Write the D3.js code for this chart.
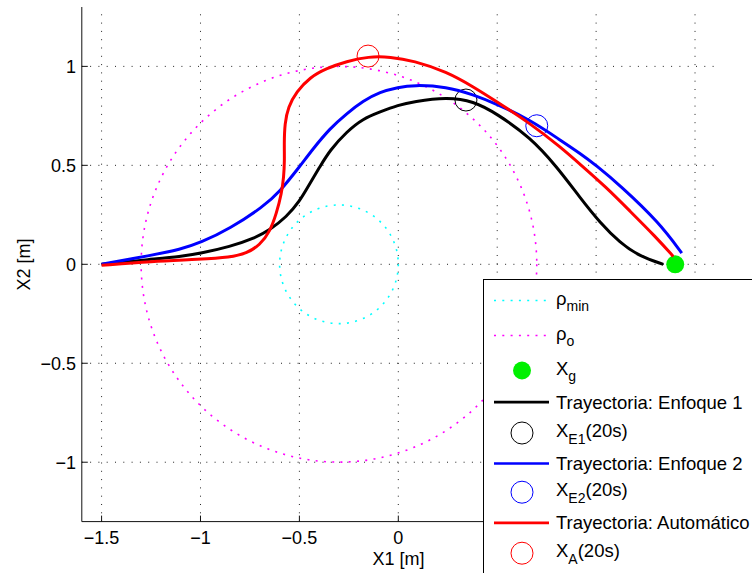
<!DOCTYPE html>
<html><head><meta charset="utf-8">
<script src="https://cdn.jsdelivr.net/npm/d3@7"></script>
<style>body{margin:0;background:#fff;overflow:hidden} svg{display:block;font-family:"Liberation Sans",Arial,Helvetica,sans-serif;}</style>
</head><body><svg id="c" width="752" height="573"></svg>
<script>
// ---------- data ----------
const xDomain = [-1.6, 1.6];
const yDomain = [-1.3, 1.3];
const xTicks = [-1.5, -1, -0.5, 0, 0.5, 1, 1.5];
const xTickLabels = ["\u22121.5", "\u22121", "\u22120.5", "0"];   // visible (others hidden by legend)
const yTicks = [-1, -0.5, 0, 0.5, 1];
const yTickLabels = ["\u22121", "\u22120.5", "0", "0.5", "1"];
const obstacleCenter = [-0.3, 0];
const rhoMin = 0.3;
const rhoO = 1.0;
const goal = [1.4, 0];
const trajE1 = [[-1.5,0],[-1.25,0.025],[-1.1,0.039],[-1.0,0.055],[-0.85,0.089],[-0.73,0.131],[-0.65,0.173],[-0.565,0.24],[-0.5,0.316],[-0.447,0.408],[-0.397,0.492],[-0.346,0.576],[-0.262,0.669],[-0.178,0.736],[-0.093,0.77],[0,0.805],[0.076,0.822],[0.245,0.844],[0.379,0.825],[0.5,0.76],[0.666,0.642],[0.8,0.495],[0.92,0.335],[1.02,0.21],[1.12,0.11],[1.22,0.04],[1.34,0.0]];
const trajE2 = [[-1.5,0],[-1.25,0.045],[-1.1,0.076],[-1.0,0.109],[-0.85,0.181],[-0.683,0.291],[-0.6,0.366],[-0.5,0.492],[-0.43,0.585],[-0.346,0.686],[-0.262,0.761],[-0.178,0.825],[-0.093,0.871],[0,0.894],[0.076,0.906],[0.245,0.898],[0.379,0.857],[0.497,0.81],[0.666,0.73],[0.818,0.628],[0.92,0.56],[1.0,0.5],[1.12,0.40],[1.32,0.21],[1.433,0.056]];
const trajA = [[-1.5,-0.005],[-1.25,0.015],[-1.0,0.025],[-0.85,0.035],[-0.767,0.055],[-0.7,0.097],[-0.649,0.165],[-0.616,0.257],[-0.59,0.358],[-0.579,0.442],[-0.575,0.526],[-0.577,0.61],[-0.574,0.711],[-0.557,0.795],[-0.515,0.871],[-0.447,0.945],[-0.363,0.99],[-0.262,1.025],[-0.15,1.05],[-0.04,1.048],[0.076,1.029],[0.245,0.973],[0.379,0.897],[0.497,0.822],[0.666,0.712],[0.818,0.594],[0.925,0.5],[1.05,0.39],[1.17,0.27],[1.3,0.14],[1.39,0.04]];
const markE1 = [0.342, 0.83];
const markE2 = [0.70, 0.70];
const markA = [-0.153, 1.052];
const legendLabels = [
  {main:"ρ", sub:"min", tail:""},
  {main:"ρ", sub:"o", tail:""},
  {main:"X", sub:"g", tail:""},
  {main:"Trayectoria: Enfoque 1", sub:"", tail:""},
  {main:"X", sub:"E1", tail:"(20s)"},
  {main:"Trayectoria: Enfoque 2", sub:"", tail:""},
  {main:"X", sub:"E2", tail:"(20s)"},
  {main:"Trayectoria: Automático", sub:"", tail:""},
  {main:"X", sub:"A", tail:"(20s)"}
];
const legendKinds = ["dotcyan","dotmag","goal","lineK","circK","lineB","circB","lineR","circR"];
const xLabel = "X1 [m]";
const yLabel = "X2 [m]";

// ---------- layout ----------
const svg = d3.select("#c");
const L = 81.8, R = 714.8, T = 7, B = 521.6;
const x = d3.scaleLinear().domain(xDomain).range([L, R]);
const y = d3.scaleLinear().domain(yDomain).range([B, T]);

// grid
const g = svg.append("g");
g.selectAll(".vg").data(xTicks).enter().append("line")
  .attr("x1", d => x(d)).attr("x2", d => x(d)).attr("y1", B).attr("y2", T)
  .attr("stroke", "#222").attr("stroke-width", 1).attr("stroke-dasharray", "1,7.3");
g.selectAll(".hg").data(yTicks).enter().append("line")
  .attr("y1", d => y(d)).attr("y2", d => y(d)).attr("x1", L).attr("x2", R + 2)
  .attr("stroke", "#222").attr("stroke-width", 1).attr("stroke-dasharray", "1,7.3");

// circles
const colors = {cyan:"#00ffff", mag:"#ff00ff", goal:"#00f000", K:"#000000", B:"#0000ff", R:"#ff0000"};
svg.append("circle").attr("cx", x(obstacleCenter[0])).attr("cy", y(obstacleCenter[1]))
  .attr("r", x(rhoMin) - x(0)).attr("fill", "none").attr("stroke", colors.cyan)
  .attr("stroke-width", 1.6).attr("stroke-dasharray", "2,6.3");
svg.append("circle").attr("cx", x(obstacleCenter[0])).attr("cy", y(obstacleCenter[1]))
  .attr("r", x(rhoO) - x(0)).attr("fill", "none").attr("stroke", colors.mag)
  .attr("stroke-width", 1.6).attr("stroke-dasharray", "2,6.3");

// goal
svg.append("circle").attr("cx", x(goal[0])).attr("cy", y(goal[1])).attr("r", 9).attr("fill", colors.goal);

const line = d3.line().x(d => x(d[0])).y(d => y(d[1])).curve(d3.curveBasis);
function traj(data, col) {
  svg.append("path").attr("d", line(data)).attr("fill", "none").attr("stroke", col)
    .attr("stroke-width", 3).attr("stroke-linejoin", "round");
}
function mark(p, col) {
  svg.append("circle").attr("cx", x(p[0])).attr("cy", y(p[1])).attr("r", 11)
    .attr("fill", "none").attr("stroke", col).attr("stroke-width", 1);
}
traj(trajE1, colors.K); mark(markE1, colors.K);
traj(trajE2, colors.B); mark(markE2, colors.B);
traj(trajA, colors.R); mark(markA, colors.R);

// axes spines and ticks
svg.append("line").attr("x1", L).attr("x2", L).attr("y1", T).attr("y2", B).attr("stroke", "#111").attr("stroke-width", 1);
svg.append("line").attr("x1", L).attr("x2", R).attr("y1", B).attr("y2", B).attr("stroke", "#111").attr("stroke-width", 1);
svg.selectAll(".xt").data(xTicks).enter().append("line")
  .attr("x1", d => x(d)).attr("x2", d => x(d)).attr("y1", B).attr("y2", B - 6).attr("stroke", "#111");
svg.selectAll(".yt").data(yTicks).enter().append("line")
  .attr("y1", d => y(d)).attr("y2", d => y(d)).attr("x1", L).attr("x2", L + 6).attr("stroke", "#111");
svg.selectAll(".xl").data(xTickLabels).enter().append("text")
  .attr("x", (d, i) => x(xTicks[i])).attr("y", 544).attr("text-anchor", "middle")
  .attr("font-size", 18).attr("fill", "#000").text(d => d);
svg.selectAll(".yl").data(yTickLabels).enter().append("text")
  .attr("x", 76).attr("y", (d, i) => y(yTicks[i]) + 6.5).attr("text-anchor", "end")
  .attr("font-size", 18).attr("fill", "#000").text(d => d);
svg.append("text").attr("x", 398.5).attr("y", 565).attr("text-anchor", "middle")
  .attr("font-size", 18).text(xLabel);
svg.append("text").attr("transform", "translate(30,264.5) rotate(-90)").attr("text-anchor", "middle")
  .attr("font-size", 18).text(yLabel);

// legend
const lgX = 483.5, lgY = 279.5;
const rowOff = [21, 56, 91, 122.7, 153.5, 184, 212.7, 243.3, 273.7];
const lg = svg.append("g");
lg.append("rect").attr("x", lgX).attr("y", lgY).attr("width", 320).attr("height", 340)
  .attr("fill", "#fff").attr("stroke", "#000").attr("stroke-width", 1);
const sx0 = 494, sx1 = 549, scx = 522, tx = 556;
legendKinds.forEach((k, i) => {
  const cy = lgY + rowOff[i];
  if (k === "dotcyan" || k === "dotmag") {
    lg.append("line").attr("x1", sx0).attr("x2", sx1).attr("y1", cy).attr("y2", cy)
      .attr("stroke", k === "dotcyan" ? colors.cyan : colors.mag).attr("stroke-width", 1.6)
      .attr("stroke-dasharray", "2,6.3");
  } else if (k === "goal") {
    lg.append("circle").attr("cx", scx).attr("cy", cy).attr("r", 9).attr("fill", colors.goal);
  } else if (k.startsWith("line")) {
    lg.append("line").attr("x1", sx0).attr("x2", sx1).attr("y1", cy).attr("y2", cy)
      .attr("stroke", colors[k.slice(4)]).attr("stroke-width", 2.7);
  } else {
    lg.append("circle").attr("cx", scx).attr("cy", cy).attr("r", 11)
      .attr("fill", "none").attr("stroke", colors[k.slice(4)]).attr("stroke-width", 1);
  }
  const lab = legendLabels[i];
  const t = lg.append("text").attr("x", tx).attr("font-size", 18.5).attr("fill", "#000");
  if (lab.sub) {
    t.attr("y", cy + 4);
    t.append("tspan").text(lab.main);
    t.append("tspan").attr("font-size", 14).attr("dy", 6.5).text(lab.sub);
    if (lab.tail) t.append("tspan").attr("dy", -6.5).text(lab.tail);
  } else {
    t.attr("y", cy + 6.5).text(lab.main);
  }
});
</script></body></html>
